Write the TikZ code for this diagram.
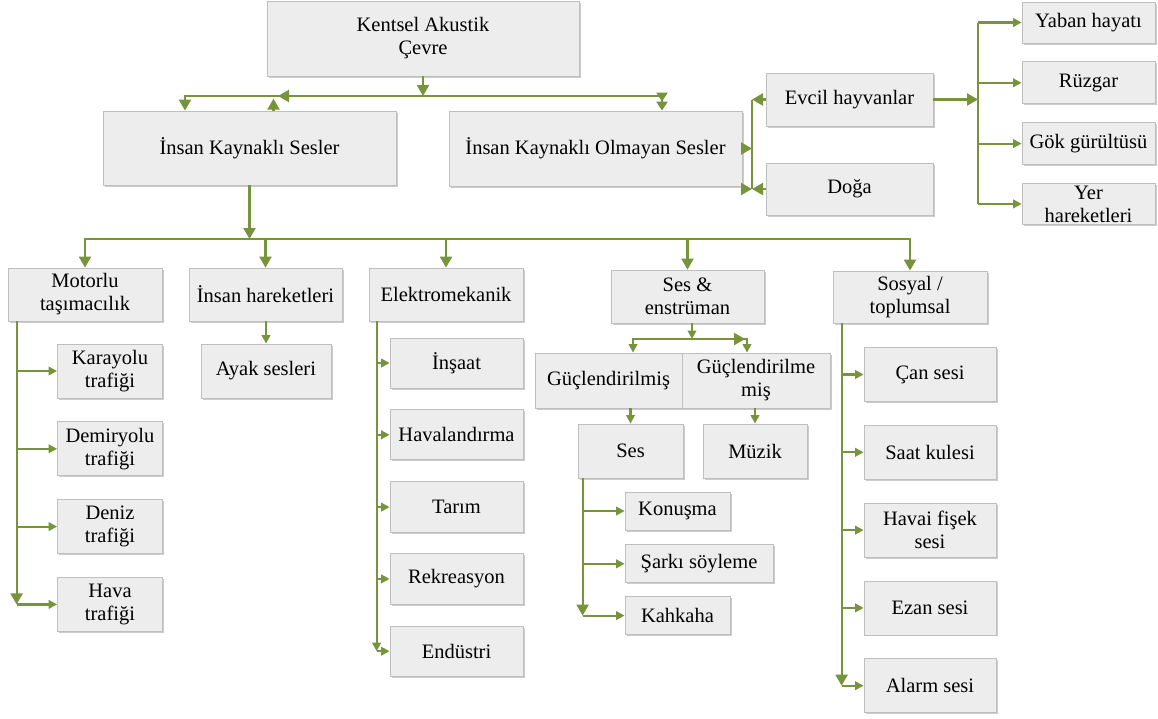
\documentclass[tikz,border=0pt]{standalone}
\usepackage{fontspec}
\setmainfont{Liberation Serif}
\usetikzlibrary{arrows.meta, positioning, shadows}
\definecolor{linkgreen}{HTML}{77933C}
\definecolor{boxgray}{HTML}{EDEDED}
\definecolor{boxline}{HTML}{BFBFBF}

\begin{document}
\begin{tikzpicture}[
    x=1pt, y=-1pt,
    >={Triangle[length=11pt, width=12pt]},
    box/.style={draw=boxline, fill=boxgray, line width=0.8pt, inner sep=0pt,
                align=center, font=\fontsize{20.5}{23}\selectfont,
                drop shadow={shadow xshift=1.5pt, shadow yshift=-1.5pt,
                             fill=black, opacity=0.2}},
    wh/.style 2 args={minimum width=#1pt, minimum height=#2pt},
    link/.style={draw=linkgreen, line width=2.2pt},
    small/.style={link, -{Triangle[length=8.5pt, width=8.5pt]}}
  ]
  \useasboundingbox (0,0) rectangle (1158,718);

  % Top levels
  \node[box, wh={312}{75}] (kentsel) at (423,38.5) {Kentsel Akustik\\Çevre};
  \node[box, wh={293}{74}] (insan) at (249.5,148) {İnsan Kaynaklı Sesler};
  \node[box, wh={293}{75}] (olmayan) at (595.5,148.5)
    {İnsan Kaynaklı Olmayan Sesler};

  % Non-human sources
  \node[box, wh={167}{53}] (evcil) at (849.5,99.5) {Evcil hayvanlar};
  \node[box, wh={167}{52}] (doga) at (849.5,189) {Doğa};
  \node[box, wh={133}{41}] (yaban) at (1088.5,22.5) {Yaban hayatı};
  \node[box, wh={133}{42}, below=18pt of yaban] (ruzgar) {Rüzgar};
  \node[box, wh={133}{42}, below=18pt of ruzgar] (gok) {Gök gürültüsü};
  \node[box, wh={133}{41}, below=18pt of gok] (yer) {Yer\\hareketleri};

  % Human sources
  \node[box, wh={154}{53}] (motorlu) at (85,294.5) {Motorlu\\taşımacılık};
  \node[box, wh={153}{53}] (insanh) at (265.5,294.5) {İnsan hareketleri};
  \node[box, wh={154}{53}] (elektro) at (446,294.5) {Elektromekanik};
  \node[box, wh={153}{53}] (sesens) at (687.5,296.5) {Ses \&\\enstrüman};
  \node[box, wh={154}{52}] (sosyal) at (910,297) {Sosyal /\\toplumsal};

  \node[box, wh={105}{54}] (karayolu) at (110,371) {Karayolu\\trafiği};
  \node[box, wh={105}{54}, below=23pt of karayolu] (demiryolu)
    {Demiryolu\\trafiği};
  \node[box, wh={105}{54}, below=23pt of demiryolu] (deniz) {Deniz\\trafiği};
  \node[box, wh={105}{54}, below=23pt of deniz] (hava) {Hava\\trafiği};

  \node[box, wh={130}{54}] (ayak) at (266,371) {Ayak sesleri};

  \node[box, wh={133}{50}] (insaat) at (456.5,363) {İnşaat};
  \node[box, wh={133}{50}, below=21pt of insaat] (havalandirma)
    {Havalandırma};
  \node[box, wh={133}{51}, below=21pt of havalandirma] (tarim) {Tarım};
  \node[box, wh={133}{51}, below=20pt of tarim] (rekreasyon) {Rekreasyon};
  \node[box, wh={133}{50}, below=21pt of rekreasyon] (endustri) {Endüstri};

  \node[box, wh={147}{55}] (guclu) at (608.5,380.5) {Güçlendirilmiş};
  \node[box, wh={148}{55}] (guclume) at (756,380.5) {Güçlendirilme\\miş};
  \node[box, wh={105}{54}] (ses) at (630.5,451) {Ses};
  \node[box, wh={104}{54}] (muzik) at (755,451) {Müzik};
  \node[box, wh={105}{38}] (konusma) at (677.5,511) {Konuşma};
  \node[box, wh={148}{38}, below right=14pt and 0pt of konusma.south west]
    (sarki) {Şarkı söyleme};
  \node[box, wh={105}{38}, below right=13pt and 0pt of sarki.south west]
    (kahkaha) {Kahkaha};

  \node[box, wh={132}{54}] (can) at (930,374.5) {Çan sesi};
  \node[box, wh={132}{54}, below=23pt of can] (saat) {Saat kulesi};
  \node[box, wh={132}{54}, below=23pt of saat] (havai) {Havai fişek\\sesi};
  \node[box, wh={132}{54}, below=23pt of havai] (ezan) {Ezan sesi};
  \node[box, wh={132}{54}, below=23pt of ezan] (alarm) {Alarm sesi};

  % Bus below the root
  \coordinate (kbus) at (423,96);
  \draw[link, ->] (kentsel.south) -- (kbus);
  \draw[link, ->] (kbus) -| ([xshift=-64.5pt]insan.north);
  \draw[link, -{Triangle[length=9pt, width=11pt] Triangle[length=9pt, width=11pt]}]
    (kbus) -| ([xshift=66.5pt]olmayan.north);
  \draw[link, ->] (kbus) -- (278,96);
  \draw[link, ->] ([xshift=24pt]insan.north) -- ++(0,-12);

  % Non-human branch
  \coordinate (ntrunk) at (752,148.5);
  \coordinate (dogin) at (741,189);
  \draw[link, ->] (olmayan.east) -- (ntrunk);
  \draw[link] (ntrunk |- evcil.west) -- (ntrunk |- doga.west);
  \draw[link, ->] (evcil.west) -- (evcil.west -| ntrunk);
  \draw[link, ->] (doga.west) -- (doga.west -| ntrunk);
  \draw[link, ->] (dogin) -- (ntrunk |- dogin);

  \coordinate (etrunk) at (978,100);
  \draw[link, ->] (evcil.east) -- (evcil.east -| etrunk);
  \draw[link] (etrunk |- yaban.west) -- (etrunk |- yer.west);
  \foreach \n in {yaban, ruzgar, gok, yer}
    \draw[small] (etrunk |- \n.west) -- (\n.west);

  % Human branch
  \coordinate (hbus) at (249.5,239);
  \draw[link, ->] (insan.south) -- (hbus);
  \foreach \n in {motorlu, insanh, elektro, sesens, sosyal}
    \draw[link, ->] (hbus) -| (\n.north);

  \coordinate (mtop) at ([xshift=9pt]motorlu.south west);
  \draw[link, ->] (mtop) -- (mtop |- hava.west);
  \foreach \n in {karayolu, demiryolu, deniz, hava}
    \draw[small] (mtop |- \n.west) -- (\n.west);

  \draw[small] (insanh.south -| ayak.north) -- (ayak.north);

  \coordinate (etop) at ([xshift=8pt]elektro.south west);
  \draw[small] (etop) -- (etop |- endustri.west);
  \foreach \n in {insaat, havalandirma, tarim, rekreasyon, endustri}
    \draw[small] (etop |- \n.west) -- (\n.west);

  % Sound and instruments
  \coordinate (sbus) at (692,339);
  \draw[small] (sesens.south -| sbus) -- (sbus);
  \draw[small] (sbus) -| ([xshift=24.5pt]guclu.north);
  \draw[small] (sbus) -| ([xshift=-9pt]guclume.north);
  \draw[link, ->] (sbus) -- (745,339);
  \draw[small] (ses.north |- guclu.south) -- (ses.north);
  \draw[small] (muzik.north |- guclume.south) -- (muzik.north);

  \coordinate (stop) at ([xshift=5pt]ses.south west);
  \draw[link, ->] (stop) -- (stop |- kahkaha.west);
  \foreach \n in {konusma, sarki, kahkaha}
    \draw[small] (stop |- \n.west) -- (\n.west);

  \coordinate (otop) at ([xshift=9pt]sosyal.south west);
  \draw[link, ->] (otop) -- (otop |- alarm.west);
  \foreach \n in {can, saat, havai, ezan, alarm}
    \draw[small] (otop |- \n.west) -- (\n.west);
\end{tikzpicture}
\end{document}
